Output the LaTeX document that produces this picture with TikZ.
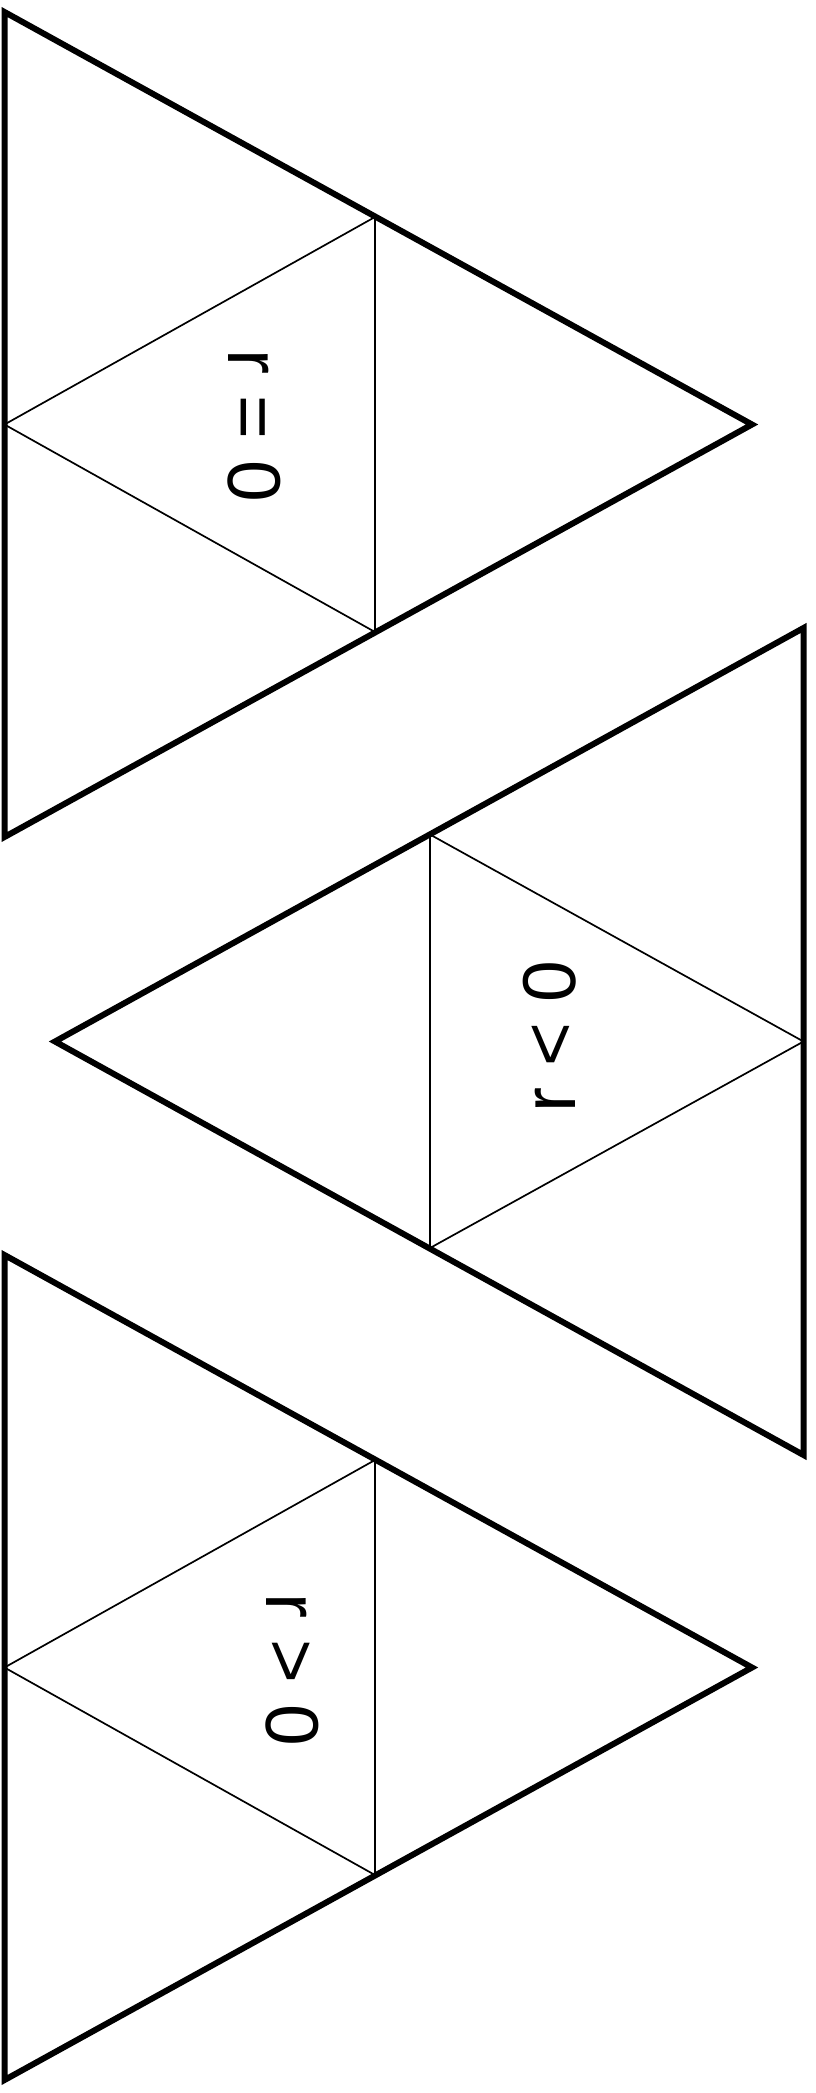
\documentclass[tikz,border=0pt]{standalone}
\usepackage{fontspec}
\setmainfont{Liberation Sans}
\begin{document}
\begin{tikzpicture}[x=1pt,y=-1pt,
  outer/.style={line width=6pt,line join=miter},
  inner/.style={line width=1.7pt},
  lbl/.style={anchor=base,inner sep=0pt,font=\fontsize{75}{90}\selectfont}]
\useasboundingbox (0,0) rectangle (816,2093);
% triangle 1
\coordinate (a1) at (4.5,12);
\coordinate (b1) at (752,424.5);
\coordinate (c1) at (4.5,837);
\coordinate (m1ab) at (375,217);
\coordinate (m1bc) at (375,632);
\coordinate (m1ca) at (4.5,424.5);
\draw[inner] (m1ab) -- (m1bc) -- (m1ca) -- cycle;
\draw[outer] (a1) -- (b1) -- (c1) -- cycle;
\node[lbl,rotate=-90] (t1) at (228,426) {r = 0};
% triangle 2
\coordinate (a2) at (55,1041.5);
\coordinate (b2) at (803.5,628);
\coordinate (c2) at (803.5,1455);
\coordinate (m2ab) at (430,834.5);
\coordinate (m2ac) at (430,1248);
\coordinate (m2bc) at (803.5,1041.5);
\draw[inner] (m2ab) -- (m2ac) -- (m2bc) -- cycle;
\draw[outer] (a2) -- (b2) -- (c2) -- cycle;
\node[lbl,rotate=90] (t2) at (575,1036.5) {r < 0};
% triangle 3
\coordinate (a3) at (4.5,1255);
\coordinate (b3) at (752,1667.5);
\coordinate (c3) at (4.5,2080);
\coordinate (m3ab) at (375,1460);
\coordinate (m3bc) at (375,1875);
\coordinate (m3ca) at (4.5,1667.5);
\draw[inner] (m3ab) -- (m3bc) -- (m3ca) -- cycle;
\draw[outer] (a3) -- (b3) -- (c3) -- cycle;
\node[lbl,rotate=-90] (t3) at (266,1670) {r > 0};
\end{tikzpicture}
\end{document}
